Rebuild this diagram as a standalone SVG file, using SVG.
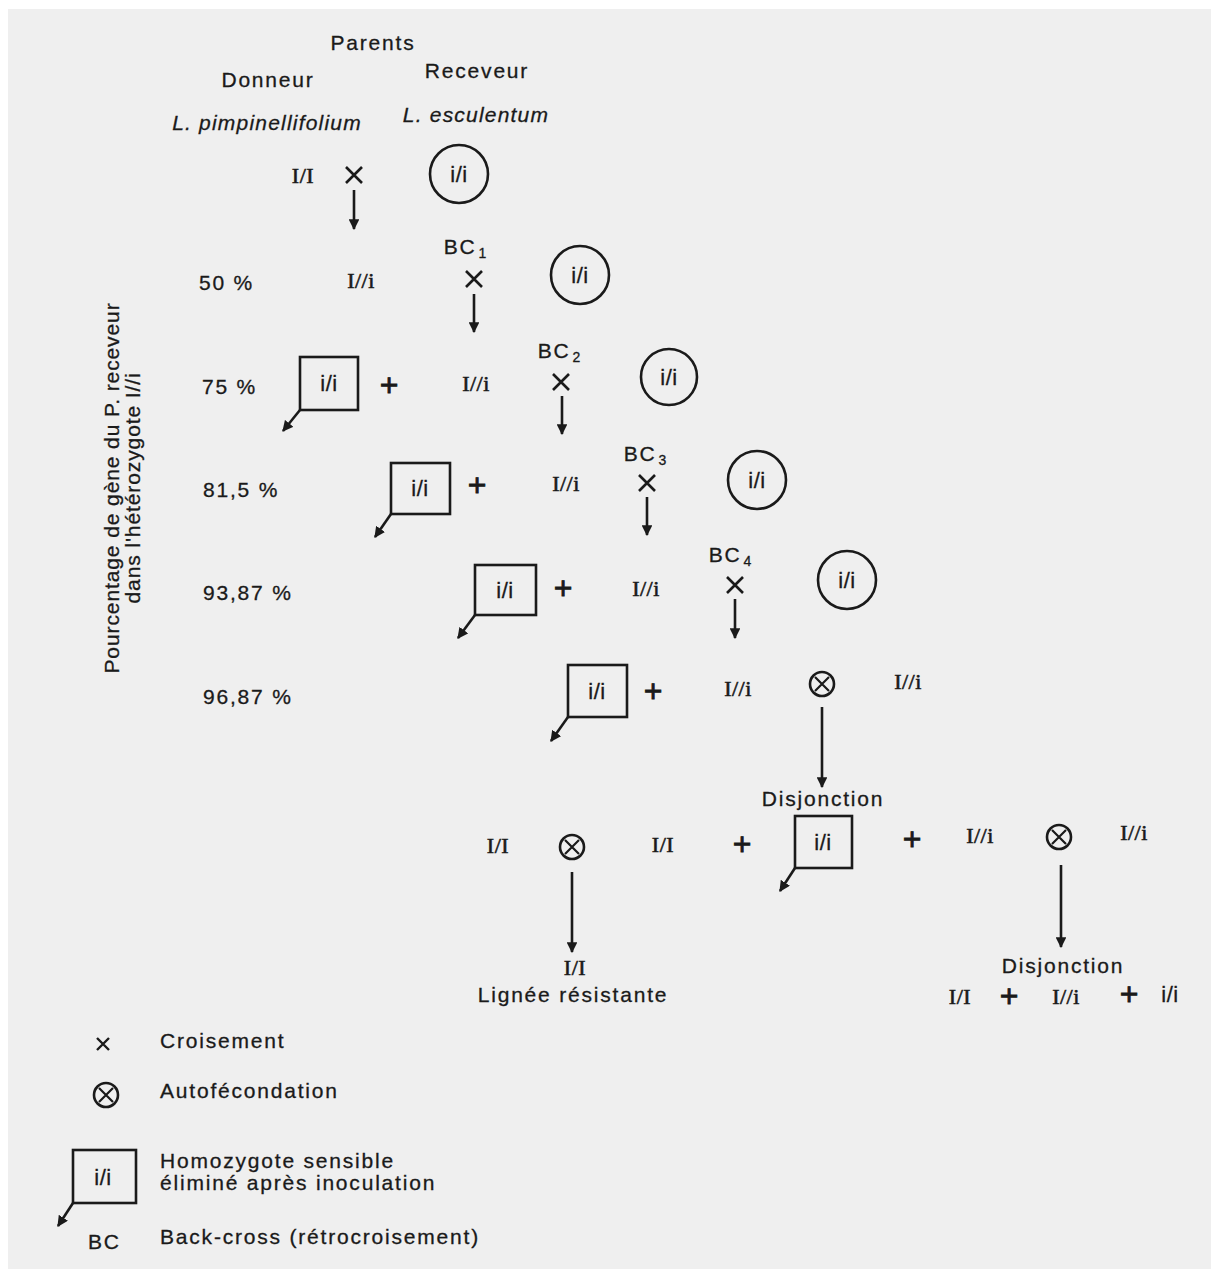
<svg xmlns="http://www.w3.org/2000/svg" xmlns:xlink="http://www.w3.org/1999/xlink" width="1215" height="1273" viewBox="0 0 1215 1273">
<style>
.s{font-family:"Liberation Sans",Arial,sans-serif;font-size:21px;letter-spacing:1.8px;fill:#1a1a1a;stroke:#1a1a1a;stroke-width:0.3}
.it{font-style:italic;letter-spacing:1.2px}
.v{letter-spacing:0.9px}
.g{font-family:"Liberation Serif","Times New Roman",serif;font-size:22px;letter-spacing:0.5px;fill:#1a1a1a;stroke:#1a1a1a;stroke-width:0.6}
.gi{font-family:"Liberation Sans",Arial,sans-serif;font-size:22px;letter-spacing:0.6px;fill:#1a1a1a;stroke:#1a1a1a;stroke-width:0.3}
.m{text-anchor:middle}
.ln{stroke:#1a1a1a;stroke-width:2.6;fill:none}
.bx{stroke:#1a1a1a;stroke-width:2.6;fill:none}
.plus{font-family:"Liberation Sans",Arial,sans-serif;font-size:32px;fill:#1a1a1a;stroke:#1a1a1a;stroke-width:0.8;text-anchor:middle}
</style>
<defs>
<marker id="ah" viewBox="0 0 10 10" refX="9" refY="5" markerWidth="4.2" markerHeight="4.2" orient="auto" markerUnits="strokeWidth">
<path d="M0,0 L10,5 L0,10 z" fill="#1a1a1a"/>
</marker>
<g id="cross"><path d="M-8,-8 L8,8 M8,-8 L-8,8" stroke="#1a1a1a" stroke-width="2.6" fill="none"/></g>
<g id="self"><circle r="12" stroke="#1a1a1a" stroke-width="2.6" fill="none"/><path d="M-7,-7 L7,7 M7,-7 L-7,7" stroke="#1a1a1a" stroke-width="2.2"/></g>
</defs>
<rect x="0" y="0" width="1215" height="1273" fill="#ffffff"/>
<rect x="8" y="9" width="1203" height="1260" fill="#efefef"/>

<g id="headers">
<text class="s m" x="373" y="50">Parents</text>
<text class="s m" x="268" y="87">Donneur</text>
<text class="s m" x="477" y="78">Receveur</text>
<text class="s m it" x="267" y="130">L. pimpinellifolium</text>
<text class="s m it" x="476" y="122">L. esculentum</text>
</g>

<g id="yaxis">
<text class="s m v" transform="translate(119,488) rotate(-90)">Pourcentage de gène du P. receveur</text>
<text class="s m v" transform="translate(140,488) rotate(-90)">dans l'hétérozygote I//i</text>
</g>

<g id="percentages">
<text class="s" x="199" y="290">50 %</text>
<text class="s" x="202" y="394">75 %</text>
<text class="s" x="203" y="497">81,5 %</text>
<text class="s" x="203" y="600">93,87 %</text>
<text class="s" x="203" y="704">96,87 %</text>
</g>

<g id="p-donor"><text class="g m" x="303" y="183">I/I</text></g>
<g id="x0"><use xlink:href="#cross" x="354" y="175"/></g>
<g id="p-recv0"><circle cx="459" cy="174" r="29" class="bx"/><text class="gi m" x="459" y="182">i/i</text></g>

<g id="f1"><text class="g m" x="361" y="288">I//i</text></g>
<g id="bc1"><text class="s m" x="466" y="254">BC<tspan font-size="14" dy="4" dx="2">1</tspan></text><use xlink:href="#cross" x="474" y="279"/></g>
<g id="recv1"><circle cx="580" cy="275" r="29" class="bx"/><text class="gi m" x="580" y="283">i/i</text></g>

<g id="box75"><rect x="300" y="357" width="58" height="53" class="bx"/><text class="gi m" x="329" y="391">i/i</text></g>
<g id="plus75"><text class="plus" x="389" y="396">+</text></g>
<g id="het75"><text class="g m" x="476" y="391">I//i</text></g>
<g id="bc2"><text class="s m" x="560" y="358">BC<tspan font-size="14" dy="4" dx="2">2</tspan></text><use xlink:href="#cross" x="561" y="382"/></g>
<g id="recv2"><circle cx="669" cy="377" r="28" class="bx"/><text class="gi m" x="669" y="385">i/i</text></g>

<g id="box81"><rect x="391" y="463" width="59" height="51" class="bx"/><text class="gi m" x="420" y="496">i/i</text></g>
<g id="plus81"><text class="plus" x="477" y="496">+</text></g>
<g id="het81"><text class="g m" x="566" y="491">I//i</text></g>
<g id="bc3"><text class="s m" x="646" y="461">BC<tspan font-size="14" dy="4" dx="2">3</tspan></text><use xlink:href="#cross" x="647" y="483"/></g>
<g id="recv3"><circle cx="757" cy="480" r="29" class="bx"/><text class="gi m" x="757" y="488">i/i</text></g>

<g id="box93"><rect x="475" y="565" width="61" height="50" class="bx"/><text class="gi m" x="505" y="598">i/i</text></g>
<g id="plus93"><text class="plus" x="563" y="599">+</text></g>
<g id="het93"><text class="g m" x="646" y="596">I//i</text></g>
<g id="bc4"><text class="s m" x="731" y="562">BC<tspan font-size="14" dy="4" dx="2">4</tspan></text><use xlink:href="#cross" x="735" y="585"/></g>
<g id="recv4"><circle cx="847" cy="580" r="29" class="bx"/><text class="gi m" x="847" y="588">i/i</text></g>

<g id="box96"><rect x="568" y="665" width="59" height="52" class="bx"/><text class="gi m" x="597" y="699">i/i</text></g>
<g id="plus96"><text class="plus" x="653" y="702">+</text></g>
<g id="het96"><text class="g m" x="738" y="696">I//i</text></g>
<g id="self96"><use xlink:href="#self" x="822" y="684"/></g>
<g id="het96b"><text class="g m" x="908" y="689">I//i</text></g>

<g id="disj1"><text class="s m" x="823" y="806">Disjonction</text></g>
<g id="hom-r1"><text class="g m" x="498" y="853">I/I</text></g>
<g id="self-r"><use xlink:href="#self" x="572" y="847"/></g>
<g id="hom-r2"><text class="g m" x="663" y="852">I/I</text></g>
<g id="plus-d1"><text class="plus" x="742" y="855">+</text></g>
<g id="box-d"><rect x="795" y="816" width="57" height="52" class="bx"/><text class="gi m" x="823" y="850">i/i</text></g>
<g id="plus-d2"><text class="plus" x="912" y="850">+</text></g>
<g id="het-d1"><text class="g m" x="980" y="843">I//i</text></g>
<g id="self-d"><use xlink:href="#self" x="1059" y="837"/></g>
<g id="het-d2"><text class="g m" x="1134" y="840">I//i</text></g>

<g id="line-res"><text class="g m" x="575" y="975">I/I</text><text class="s m" x="573" y="1002">Lignée résistante</text></g>
<g id="disj2"><text class="s m" x="1063" y="973">Disjonction</text>
<text class="g m" x="960" y="1004">I/I</text><text class="plus" x="1009" y="1007">+</text><text class="g m" x="1066" y="1004">I//i</text><text class="plus" x="1129" y="1005">+</text><text class="gi m" x="1170" y="1002">i/i</text></g>

<g id="connectors">
<line class="ln" x1="354" y1="190" x2="354" y2="229" marker-end="url(#ah)"/>
<line class="ln" x1="474" y1="294" x2="474" y2="332" marker-end="url(#ah)"/>
<line class="ln" x1="562" y1="396" x2="562" y2="434" marker-end="url(#ah)"/>
<line class="ln" x1="647" y1="497" x2="647" y2="535" marker-end="url(#ah)"/>
<line class="ln" x1="735" y1="599" x2="735" y2="638" marker-end="url(#ah)"/>
<line class="ln" x1="822" y1="707" x2="822" y2="787" marker-end="url(#ah)"/>
<line class="ln" x1="572" y1="872" x2="572" y2="952" marker-end="url(#ah)"/>
<line class="ln" x1="1061" y1="865" x2="1061" y2="947" marker-end="url(#ah)"/>
<line class="ln" x1="300" y1="410" x2="283" y2="431" marker-end="url(#ah)"/>
<line class="ln" x1="391" y1="514" x2="375" y2="537" marker-end="url(#ah)"/>
<line class="ln" x1="475" y1="615" x2="458" y2="638" marker-end="url(#ah)"/>
<line class="ln" x1="568" y1="717" x2="551" y2="741" marker-end="url(#ah)"/>
<line class="ln" x1="795" y1="868" x2="780" y2="891" marker-end="url(#ah)"/>
</g>

<g id="legend">
<path d="M97,1038 L109,1050 M109,1038 L97,1050" stroke="#1a1a1a" stroke-width="2.4"/>
<text class="s" x="160" y="1048">Croisement</text>
<use xlink:href="#self" x="106" y="1095"/>
<text class="s" x="160" y="1098">Autofécondation</text>
<rect x="73" y="1150" width="63" height="53" class="bx"/><text class="gi m" x="103" y="1185">i/i</text>
<line class="ln" x1="73" y1="1203" x2="58" y2="1226" marker-end="url(#ah)"/>
<text class="s" x="160" y="1168">Homozygote sensible</text>
<text class="s" x="160" y="1190">éliminé après inoculation</text>
<text class="s" x="88" y="1249">BC</text>
<text class="s" x="160" y="1244">Back-cross (rétrocroisement)</text>
</g>
</svg>
